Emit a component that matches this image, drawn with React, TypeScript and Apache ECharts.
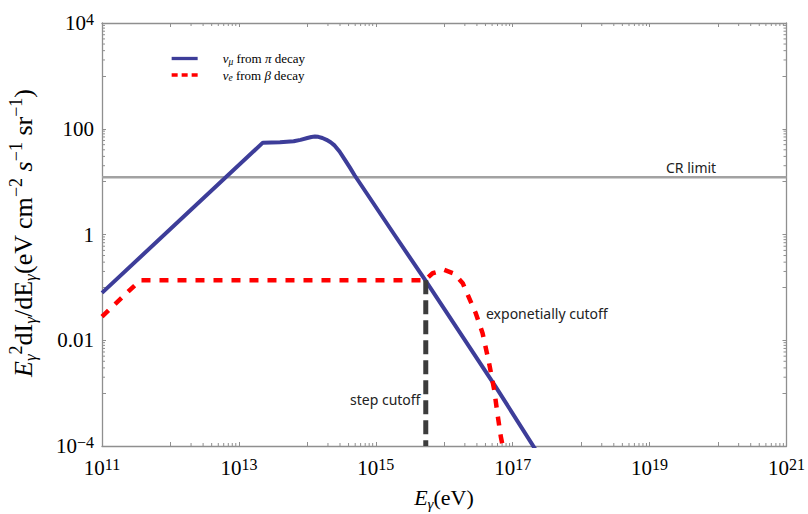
import React, { useEffect, useRef } from 'react';
import * as echarts from 'echarts';

// ---- axis ranges ----
const X_MIN = 1e11;
const X_MAX = 1e21;
const Y_MIN = 1e-4;
const Y_MAX = 1e4;

// ---- data (energy as log10(E/eV), flux in eV cm^-2 s^-1 sr^-1) ----
const NUMU_LOG_E = [11.0, 13.35, 13.6, 13.8, 13.9, 14.0, 14.06, 14.11, 14.16, 14.22, 14.28, 14.34, 14.4, 14.47, 14.54, 14.62, 14.69, 15.27, 15.72, 16.75, 17.35];
const NUMU_FLUX = [0.0787, 54.6, 55.6, 57.9, 61.7, 66.8, 70.0, 71.1, 70.3, 66.8, 61.7, 55.6, 47.9, 37.2, 26.9, 18.6, 13.2, 1.0, 0.138, 0.00133, 7.9e-5];

const NUE_LOG_E = [11.0, 11.56, 15.72, 15.83, 16.0, 16.15, 16.27, 16.46, 16.56, 16.655, 16.73, 16.776, 16.826, 16.87];
const NUE_FLUX = [0.0281, 0.137, 0.137, 0.185, 0.214, 0.18, 0.12, 0.0325, 0.0136, 0.00369, 0.00115, 4.19e-4, 1.51e-4, 7.9e-5];

const CR_LIMIT_LOG_E = [11, 21];
const CR_LIMIT_FLUX = [12.1, 12.1];

const STEP_CUTOFF_LOG_E = [15.73, 15.73];
const STEP_CUTOFF_FLUX = [0.137, 1e-4];

// labelled decades
const X_LABEL_EXPONENTS = [11, 13, 15, 17, 19, 21];
const Y_LABEL_EXPONENTS = [-4, -2, 0, 2, 4];

// minor tick decoration (upper decade of each labelled two-decade interval)
const MINOR_MULTIPLIERS = [2, 3, 4, 5, 6, 7, 8, 9];
const X_MINOR_DECADES = [12, 14, 16, 18, 20];
const Y_MINOR_DECADES = [3, 1, -1, -3];

const SERIF = '"Liberation Serif", "DejaVu Serif", serif';
const SANS = '"Noto Sans", "Open Sans", sans-serif';
const FRAME = '#8f8f8f';

const toPairs = (logE: number[], flux: number[]) => logE.map((e, i) => [Math.pow(10, e), flux[i]]);

const supRich = {
  b: { fontSize: 21, fontFamily: SERIF, color: '#000', lineHeight: 24 },
  sup: { fontSize: 16, fontFamily: SERIF, color: '#000', lineHeight: 14, verticalAlign: 'top' },
};

const expOf = (v: number) => Math.round(Math.log10(v));

const xLabel = (v: number) => {
  const e = expOf(v);
  if (!X_LABEL_EXPONENTS.includes(e)) return '';
  return `{b|10}{sup|${e}}`;
};
const yLabel = (v: number) => {
  const e = expOf(v);
  if (!Y_LABEL_EXPONENTS.includes(e)) return '';
  if (e === 2) return '{b|100}';
  if (e === 0) return '{b|1}';
  if (e === -2) return '{b|0.01}';
  return `{b|10}{sup|${e < 0 ? '\u2212' + Math.abs(e) : e}}`;
};

const tickLine = (x1: number, y1: number, x2: number, y2: number) => ({
  type: 'line',
  shape: { x1, y1, x2, y2 },
  style: { stroke: FRAME, lineWidth: 1 },
});

export default function App() {
  const ref = useRef<HTMLDivElement>(null);

  useEffect(() => {
    const chart = echarts.init(ref.current!, undefined, { renderer: 'svg' });

    const xMinor = X_MINOR_DECADES.flatMap((d) => MINOR_MULTIPLIERS.map((m) => [m * Math.pow(10, d), Y_MIN]));
    const yMinor = Y_MINOR_DECADES.flatMap((d) => MINOR_MULTIPLIERS.map((m) => [X_MIN, m * Math.pow(10, d)]));

    const axisCommon = {
      axisLine: { show: true, lineStyle: { color: FRAME, width: 1.3 } },
      axisTick: { show: true, inside: true, length: 4, lineStyle: { color: FRAME, width: 1 } },
      splitLine: { show: false },
      minorTick: { show: false },
    };

    const option: any = {
      animation: false,
      backgroundColor: '#fff',
      grid: { left: 102, top: 23, width: 686, height: 423, containLabel: false },
      legend: {
        left: 165,
        top: 47,
        orient: 'vertical',
        itemWidth: 26,
        itemHeight: 16,
        itemGap: 2,
        data: [
          {
            name: 'numu',
            lineStyle: { width: 3.3, color: '#3d3d99', type: 'solid' },
            itemStyle: { color: 'rgba(0,0,0,0)', borderWidth: 0, opacity: 0 },
          },
          {
            name: 'nue',
            lineStyle: { width: 3.3, color: '#ff0000', type: [6, 4] },
            itemStyle: { color: 'rgba(0,0,0,0)', borderWidth: 0, opacity: 0 },
          },
        ],
        formatter: (name: string) =>
          name === 'numu'
            ? '{i|\u03bd}{sub|\u03bc}{t| from }{i|\u03c0}{t| decay}'
            : '{i|\u03bd}{sub|e}{t| from }{i|\u03b2}{t| decay}',
        textStyle: {
          padding: [0, 0, 0, 20],
          rich: {
            i: { fontFamily: SERIF, fontStyle: 'italic', fontSize: 13, lineHeight: 16, color: '#000' },
            t: { fontFamily: SERIF, fontSize: 13, lineHeight: 16, color: '#000' },
            sub: { fontFamily: SERIF, fontStyle: 'italic', fontSize: 9.5, lineHeight: 10, verticalAlign: 'bottom', color: '#000' },
          },
        },
      },
      xAxis: [
        {
          type: 'log',
          logBase: 10,
          min: X_MIN,
          max: X_MAX,
          position: 'bottom',
          ...axisCommon,
          axisLabel: { show: true, margin: 10, formatter: xLabel, rich: supRich, showMinLabel: true, showMaxLabel: true, hideOverlap: false },
        },
        {
          type: 'log',
          logBase: 10,
          min: X_MIN,
          max: X_MAX,
          position: 'top',
          ...axisCommon,
          axisLabel: { show: false },
        },
      ],
      yAxis: [
        {
          type: 'log',
          logBase: 10,
          min: Y_MIN,
          max: Y_MAX,
          position: 'left',
          ...axisCommon,
          axisLabel: { show: true, margin: 8, formatter: yLabel, rich: supRich, showMinLabel: true, showMaxLabel: true, hideOverlap: false },
        },
        {
          type: 'log',
          logBase: 10,
          min: Y_MIN,
          max: Y_MAX,
          position: 'right',
          ...axisCommon,
          axisLabel: { show: false },
        },
      ],
      series: [
        {
          type: 'custom',
          name: 'xminor',
          silent: true,
          clip: false,
          data: xMinor,
          renderItem: (_p: any, api: any) => {
            const x = api.value(0);
            const b = api.coord([x, Y_MIN]);
            const t = api.coord([x, Y_MAX]);
            return { type: 'group', children: [tickLine(b[0], b[1], b[0], b[1] - 3), tickLine(t[0], t[1], t[0], t[1] + 3)] };
          },
        },
        {
          type: 'custom',
          name: 'yminor',
          silent: true,
          clip: false,
          data: yMinor,
          renderItem: (_p: any, api: any) => {
            const y = api.value(1);
            const l = api.coord([X_MIN, y]);
            const r = api.coord([X_MAX, y]);
            return { type: 'group', children: [tickLine(l[0], l[1], l[0] + 3, l[1]), tickLine(r[0], r[1], r[0] - 3, r[1])] };
          },
        },
        {
          type: 'line',
          name: 'CR limit',
          data: toPairs(CR_LIMIT_LOG_E, CR_LIMIT_FLUX),
          symbol: 'none',
          silent: true,
          lineStyle: { color: '#a2a2a2', width: 2.5 },
          z: 2,
        },
        {
          type: 'line',
          name: 'numu',
          data: toPairs(NUMU_LOG_E, NUMU_FLUX),
          symbol: 'none',
          clip: true,
          lineStyle: { color: '#3d3d99', width: 4, join: 'round' },
          itemStyle: { color: '#3d3d99' },
          z: 3,
        },
        {
          type: 'line',
          name: 'nue',
          data: toPairs(NUE_LOG_E, NUE_FLUX),
          symbol: 'none',
          clip: true,
          lineStyle: { color: '#ff0000', width: 4.5, type: [9, 9], cap: 'butt' },
          itemStyle: { color: '#ff0000' },
          z: 4,
        },
        {
          type: 'line',
          name: 'step',
          data: toPairs(STEP_CUTOFF_LOG_E, STEP_CUTOFF_FLUX),
          symbol: 'none',
          silent: true,
          lineStyle: { color: '#3c3c3c', width: 5, type: [14, 6], cap: 'butt' },
          z: 5,
        },
      ],
      graphic: [
        {
          type: 'text',
          x: 23,
          y: 233,
          rotation: Math.PI / 2,
          style: {
            text: '{i|E}{sub|\u03b3}{sup|2}{b|dI}{sub|\u03b3}{b|/dE}{sub|\u03b3}{b|(eV cm}{sup|\u22122}{b| }{i|s}{sup|\u22121}{b| sr}{sup|\u22121}{b|)}',
            align: 'center',
            verticalAlign: 'middle',
            rich: {
              b: { fontFamily: SERIF, fontSize: 26, lineHeight: 32, fill: '#000' },
              i: { fontFamily: SERIF, fontStyle: 'italic', fontSize: 26, lineHeight: 32, fill: '#000' },
              sub: { fontFamily: SERIF, fontStyle: 'italic', fontSize: 17, lineHeight: 16, verticalAlign: 'bottom', fill: '#000' },
              sup: { fontFamily: SERIF, fontSize: 18, lineHeight: 16, verticalAlign: 'top', fill: '#000' },
            },
          },
        },
        {
          type: 'text',
          x: 444,
          y: 497,
          style: {
            text: '{i|E}{sub|\u03b3}{b|(eV)}',
            align: 'center',
            verticalAlign: 'middle',
            rich: {
              b: { fontFamily: SERIF, fontSize: 22, lineHeight: 28, fill: '#000' },
              i: { fontFamily: SERIF, fontStyle: 'italic', fontSize: 22, lineHeight: 28, fill: '#000' },
              sub: { fontFamily: SERIF, fontStyle: 'italic', fontSize: 15, lineHeight: 15, verticalAlign: 'bottom', fill: '#000' },
            },
          },
        },
        {
          type: 'text',
          x: 666,
          y: 167,
          style: { text: 'CR limit', fontFamily: SANS, fontSize: 14, fill: '#222', align: 'left', verticalAlign: 'middle' },
        },
        {
          type: 'text',
          x: 486,
          y: 313,
          style: { text: 'exponetially cutoff', fontFamily: SANS, fontSize: 14, fill: '#222', align: 'left', verticalAlign: 'middle' },
        },
        {
          type: 'text',
          x: 350,
          y: 399,
          style: { text: 'step cutoff', fontFamily: SANS, fontSize: 14, fill: '#222', align: 'left', verticalAlign: 'middle' },
        },
      ],
    };

    chart.setOption(option);
    return () => chart.dispose();
  }, []);

  return (
    <div
      ref={ref}
      style={{ position: 'absolute', left: 0, top: 0, width: 808, height: 514, background: '#fff' }}
    />
  );
}
